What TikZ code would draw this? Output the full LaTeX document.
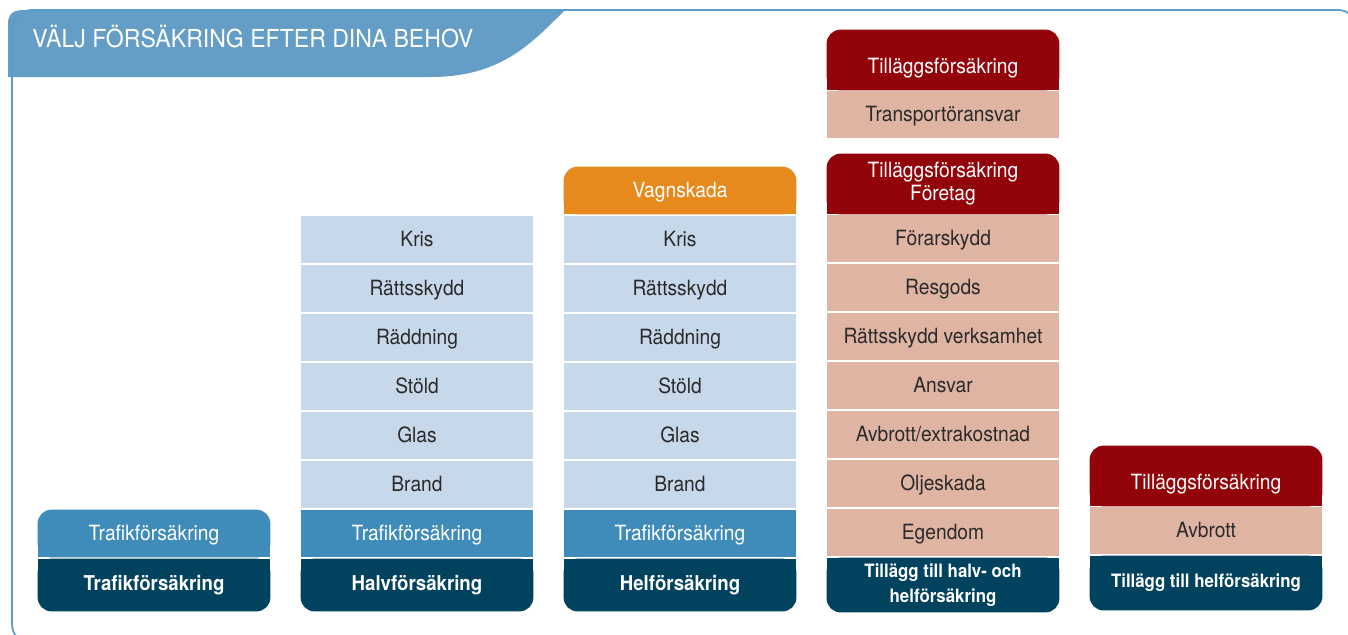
\documentclass[tikz,border=0pt]{standalone}
\usepackage{fontspec}
\setmainfont{TeX Gyre Heros}[FakeStretch=0.915]
\newfontfamily\titlefont{TeX Gyre Heros}[FakeStretch=0.93]
\usetikzlibrary{backgrounds}

\definecolor{tabblue}{HTML}{649DC6}
\definecolor{frameblue}{HTML}{5B9CC9}
\definecolor{midblue}{HTML}{3F8BBA}
\definecolor{navy}{HTML}{01425F}
\definecolor{paleblue}{HTML}{C6D8EA}
\definecolor{vagnorange}{HTML}{E68A1E}
\definecolor{tillred}{HTML}{93040A}
\definecolor{salmon}{HTML}{E0B4A3}
\definecolor{ink}{HTML}{2A2A2A}

\begin{document}
\begin{tikzpicture}[x=0.5pt, y=-0.5pt,
    cell/.style={minimum width=116pt, minimum height=23.5pt, inner sep=0pt, align=center,
        font=\fontsize{10.5}{12}\selectfont, text=ink},
    oneline/.style={text height=7.8pt, text depth=0.4pt},
    pale/.style={cell, oneline, fill=paleblue},
    rose/.style={cell, oneline, fill=salmon},
    head/.style={cell, oneline, text=white},
    tallhead/.style={cell, minimum height=30pt, text=white, text height=13.4pt, text depth=0.4pt},
    twohead/.style={cell, minimum height=30pt, text=white, font=\fontsize{10.5}{11.5}\selectfont},
    foot/.style={cell, minimum height=26pt, text=white, font=\fontsize{10.2}{12}\selectfont\bfseries},
    smallfoot/.style={foot, minimum height=27pt, font=\fontsize{9.2}{12.5}\selectfont\bfseries}]

    \useasboundingbox (0,0) rectangle (1348,634);
    \clip (0,0) rectangle (1348,634);

    % header tab and frame
    \fill[tabblue] (8,77) -- (8,24) .. controls (8,14) and (13,10) .. (24,10) -- (565,10)
        .. controls (530,45) and (500,77) .. (430,77) -- cycle;
    \draw[frameblue, line width=0.9pt, rounded corners=10pt] (12,10) rectangle (1358,644);
    \node[anchor=base west, inner sep=0pt, text=white, font=\titlefont\fontsize{12.4}{14}\selectfont]
        (title) at (32,47) {VÄLJ FÖRSÄKRING EFTER DINA BEHOV};

    % Trafikförsäkring
    \node[head] (trafik1) at (154, 533.5) {Trafikförsäkring};
    \node[foot] (bas1) at (154, 585) {Trafikförsäkring};

    % Halvförsäkring
    \node[pale] (kris2) at (417, 239.5) {Kris};
    \node[pale] (ratt2) at (417, 288.5) {Rättsskydd};
    \node[pale] (radd2) at (417, 337.5) {Räddning};
    \node[pale] (stold2) at (417, 386.5) {Stöld};
    \node[pale] (glas2) at (417, 435.5) {Glas};
    \node[pale] (brand2) at (417, 484.5) {Brand};
    \node[head, fill=midblue] (trafik2) at (417, 533.5) {Trafikförsäkring};
    \node[foot] (bas2) at (417, 585) {Halvförsäkring};

    % Helförsäkring
    \node[head] (vagn3) at (680, 190.5) {Vagnskada};
    \node[pale] (kris3) at (680, 239.5) {Kris};
    \node[pale] (ratt3) at (680, 288.5) {Rättsskydd};
    \node[pale] (radd3) at (680, 337.5) {Räddning};
    \node[pale] (stold3) at (680, 386.5) {Stöld};
    \node[pale] (glas3) at (680, 435.5) {Glas};
    \node[pale] (brand3) at (680, 484.5) {Brand};
    \node[head, fill=midblue] (trafik3) at (680, 533.5) {Trafikförsäkring};
    \node[foot] (bas3) at (680, 585) {Helförsäkring};

    % Tillägg till halv- och helförsäkring
    \node[tallhead] (till4) at (943, 60) {Tilläggsförsäkring};
    \node[rose] (transp4) at (943, 114.5) {Transportöransvar};
    \node[twohead] (tillf4) at (943, 184) {Tilläggsförsäkring\\Företag};
    \node[rose] (forar4) at (943, 238.5) {Förarskydd};
    \node[rose] (resgods4) at (943, 287.5) {Resgods};
    \node[rose] (rattv4) at (943, 336.5) {Rättsskydd verksamhet};
    \node[rose] (ansvar4) at (943, 385.5) {Ansvar};
    \node[rose] (avbrott4) at (943, 434.5) {Avbrott/extrakostnad};
    \node[rose] (olja4) at (943, 483.5) {Oljeskada};
    \node[rose] (egendom4) at (943, 532.5) {Egendom};
    \node[smallfoot] (bas4) at (943, 585) {Tillägg till halv- och\\helförsäkring};

    % Tillägg till helförsäkring
    \node[tallhead] (till5) at (1206, 476) {Tilläggsförsäkring};
    \node[rose] (avbrott5) at (1206, 530.5) {Avbrott};
    \node[smallfoot] (bas5) at (1206, 583) {Tillägg till helförsäkring};

    % rounded tops and bottoms
    \begin{scope}[on background layer]
        \fill[midblue, rounded corners=7pt] (trafik1.south west) rectangle (trafik1.north east);
        \fill[midblue] (trafik1.south west) rectangle (trafik1.east);
        \fill[vagnorange, rounded corners=7pt] (vagn3.south west) rectangle (vagn3.north east);
        \fill[vagnorange] (vagn3.south west) rectangle (vagn3.east);
        \fill[tillred, rounded corners=7pt] (till4.south west) rectangle (till4.north east);
        \fill[tillred] (till4.south west) rectangle (till4.east);
        \fill[tillred, rounded corners=7pt] (tillf4.south west) rectangle (tillf4.north east);
        \fill[tillred] (tillf4.south west) rectangle (tillf4.east);
        \fill[tillred, rounded corners=7pt] (till5.south west) rectangle (till5.north east);
        \fill[tillred] (till5.south west) rectangle (till5.east);

        \fill[navy, rounded corners=7pt] (bas1.south west) rectangle (bas1.north east);
        \fill[navy] (bas1.west) rectangle (bas1.north east);
        \fill[navy, rounded corners=7pt] (bas2.south west) rectangle (bas2.north east);
        \fill[navy] (bas2.west) rectangle (bas2.north east);
        \fill[navy, rounded corners=7pt] (bas3.south west) rectangle (bas3.north east);
        \fill[navy] (bas3.west) rectangle (bas3.north east);
        \fill[navy, rounded corners=7pt] (bas4.south west) rectangle (bas4.north east);
        \fill[navy] (bas4.west) rectangle (bas4.north east);
        \fill[navy, rounded corners=7pt] (bas5.south west) rectangle (bas5.north east);
        \fill[navy] (bas5.west) rectangle (bas5.north east);
    \end{scope}
\end{tikzpicture}
\end{document}
